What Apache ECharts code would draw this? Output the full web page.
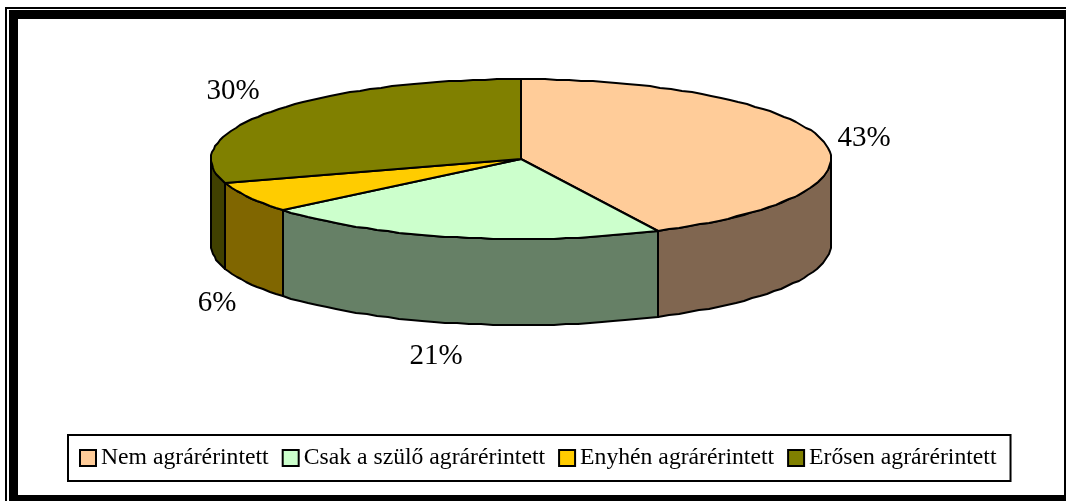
<!DOCTYPE html>
<html><head><meta charset="utf-8">
<style>html,body{margin:0;padding:0;background:#fff}#c{width:1066px;height:501px}</style>
<script src="https://cdn.jsdelivr.net/npm/echarts@6/dist/echarts.min.js"></script>
</head><body><div id="c"></div>
<script>
const categories = ['Nem agrárérintett','Csak a szülő agrárérintett','Enyhén agrárérintett','Erősen agrárérintett'];
const shares = [42.7,21.2,6.3,29.8];
const topColors = ['#FFCC99','#CCFFCC','#FFCC00','#808000'];
const wallColors = ['#806650','#668066','#806600','#404000'];
const labelOffsets = [[41,-3],[-21,119],[-32,106],[-38,-21]];

const cx=521, cy=159, rx=310, ry=80, depth=86;
const total = shares.reduce((a,b)=>a+b,0);
function pt(t,dy){ // t = fraction of the circle, clockwise from top
  const a=t*2*Math.PI;
  return [Math.round(cx+rx*Math.sin(a)), Math.round(cy-ry*Math.cos(a)+(dy||0))];
}
function arc(t0,t1,dy){
  const n=Math.max(2,Math.ceil((t1-t0)*160)), out=[];
  for(let i=0;i<=n;i++) out.push(pt(t0+(t1-t0)*i/n,dy));
  return out;
}
function makeRender(idx){
  return function(params,api){
    const before=shares.slice(0,idx).reduce((a,b)=>a+b,0);
    const t0=before/total, t1=t0+api.value(0)/total;
    const kids=[];
    const w0=Math.max(t0,0.25), w1=Math.min(t1,0.75);
    const stroke={stroke:'#000',lineWidth:2,lineJoin:'round'};
    if(w1>w0){
      const top=arc(w0,w1,0), bot=arc(w0,w1,depth).reverse();
      kids.push({type:'polygon',shape:{points:top.concat(bot)},style:Object.assign({fill:wallColors[idx]},stroke)});
    }
    kids.push({type:'polygon',shape:{points:[[cx,cy]].concat(arc(t0,t1,0))},style:Object.assign({fill:topColors[idx]},stroke)});
    const m=pt((t0+t1)/2,0), o=labelOffsets[idx];
    kids.push({type:'text',style:{text:Math.round(api.value(0)/total*100)+'%',x:m[0]+o[0],y:m[1]+o[1],
      align:'center',verticalAlign:'middle',font:'29px "Liberation Serif"',fill:'#000'}});
    return {type:'group',children:kids};
  };
}
const series=categories.map((name,i)=>({
  type:'custom',name,coordinateSystem:'none',silent:true,animation:false,
  itemStyle:{color:topColors[i],borderColor:'#000',borderWidth:2},
  renderItem:makeRender(i),data:[[shares[i]]]
}));
function bar(x,y,width,height){
  return {type:'rect',silent:true,shape:{x,y,width,height},style:{fill:'#000'}};
}
const chart=echarts.init(document.getElementById('c'),null,{renderer:'canvas'});
chart.setOption({
  animation:false,backgroundColor:'#fff',
  legend:{left:68,top:435,data:categories,icon:'rect',itemWidth:16,itemHeight:16,itemGap:13,
    padding:[10,14,10,11],borderColor:'#000',borderWidth:2,
    textStyle:{fontFamily:'Liberation Serif',fontSize:23.7,lineHeight:26,color:'#000'}},
  graphic:[
    bar(5,7,1061,2), bar(5,7,2,494),
    bar(9,10,1057,9), bar(9,10,9,491), bar(9,495,1057,6), bar(1064,10,2,491)
  ],
  series
});
</script></body></html>
